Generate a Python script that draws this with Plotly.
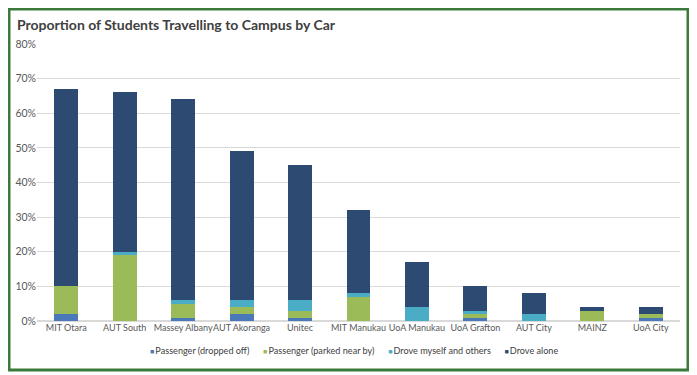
import plotly.graph_objects as go

campuses = ["MIT Otara", "AUT South", "Massey Albany", "AUT Akoranga", "Unitec",
            "MIT Manukau", "UoA Manukau", "UoA Grafton", "AUT City", "MAINZ", "UoA City"]
dropped_off = [2, 0, 1, 2, 1, 0, 0, 1, 0, 0, 1]
parked_near = [8, 19, 4, 2, 2, 7, 0, 1, 0, 3, 1]
drove_others = [0, 1, 1, 2, 3, 1, 4, 1, 2, 0, 0]
drove_alone = [57, 46, 58, 43, 39, 24, 13, 7, 6, 1, 2]
y_ticks = [0, 10, 20, 30, 40, 50, 60, 70, 80]
y_tick_labels = [f"{v}%" for v in y_ticks]

series = [
    ("Passenger (dropped off)", dropped_off, "#4a78b8"),
    ("Passenger (parked near by)", parked_near, "#9bbb59"),
    ("Drove myself and others", drove_others, "#4bacc6"),
    ("Drove alone", drove_alone, "#2c4a72"),
]

# page body has an 8px margin: figure is drawn offset by (8, 8)
OFF = 8
W, H = 697 - OFF, 375 - OFF
L, R, T, B = 37 - OFF, 17, 44 - OFF, 54
pw, ph = W - L - R, H - T - B

def px(x):
    return (x - OFF - L) / pw

def py(y):
    return (H - B - (y - OFF)) / ph

fig = go.Figure()
for name, vals, col in series:
    fig.add_trace(go.Bar(x=campuses, y=vals, name=name, marker_color=col,
                         marker_line_width=0, showlegend=False))

GAP = "\u2002\u2002\u2002"
legend_html = GAP.join(
    f'<span style="color:{col};font-size:7px">■</span>\u2009{name}' for name, _, col in series
)

font = "Lato, 'Open Sans', sans-serif"
fig.update_layout(
    width=W, height=H,
    margin=dict(l=L, r=R, t=T, b=B),
    barmode="stack", bargap=0.59,
    paper_bgcolor="white", plot_bgcolor="white",
    font=dict(family=font, size=11, color="#595959"),
    showlegend=False,
    title=dict(text="<b>Proportion of Students Travelling to Campus by Car</b>",
               x=(17 - OFF) / W, xanchor="left", y=1 - (25 - OFF) / H, yanchor="middle",
               font=dict(family=font, size=14, color="#404040")),
    xaxis=dict(showgrid=False, showline=False, ticks="", tickangle=0, automargin=False,
               tickfont=dict(family=font, size=9, color="#595959"),
               range=[-0.5, len(campuses) - 0.5]),
    yaxis=dict(range=[0, 80], tickmode="array", tickvals=y_ticks, ticktext=y_tick_labels,
               showgrid=True, automargin=False,
               gridcolor="#d9d9d9", gridwidth=1, zeroline=True, zerolinecolor="#d9d9d9",
               tickfont=dict(size=10.5, color="#595959"), ticks=""),
    annotations=[dict(text=legend_html, xref="paper", yref="paper",
                      x=px(354), y=py(350), xanchor="center", yanchor="middle",
                      showarrow=False,
                      font=dict(family=font, size=9.1, color="#404040"))],
    shapes=[dict(type="rect", xref="paper", yref="paper",
                 x0=px(9), x1=px(688), y0=py(370), y1=py(9),
                 line=dict(color="#3b7a3b", width=3), fillcolor="rgba(0,0,0,0)",
                 layer="above")],
)
fig.write_html("out.html")
